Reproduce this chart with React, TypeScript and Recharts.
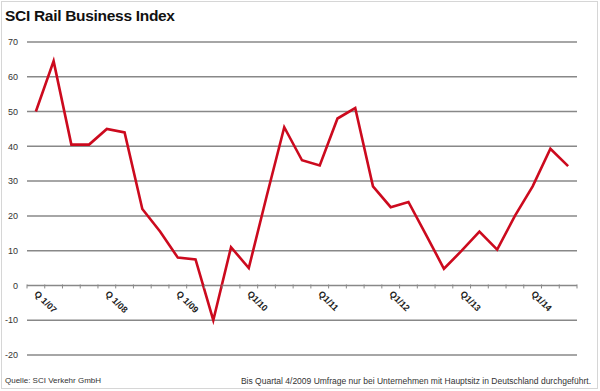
import React from 'react'
import { LineChart, Line, XAxis, YAxis, CartesianGrid } from 'recharts'

const quarters = [
  'Q1/07', 'Q2/07', 'Q3/07', 'Q4/07',
  'Q1/08', 'Q2/08', 'Q3/08', 'Q4/08',
  'Q1/09', 'Q2/09', 'Q3/09', 'Q4/09',
  'Q1/10', 'Q2/10', 'Q3/10', 'Q4/10',
  'Q1/11', 'Q2/11', 'Q3/11', 'Q4/11',
  'Q1/12', 'Q2/12', 'Q3/12', 'Q4/12',
  'Q1/13', 'Q2/13', 'Q3/13', 'Q4/13',
  'Q1/14', 'Q2/14', 'Q3/14',
]

const indexValues = [
  50, 64.5, 40.5, 40.5,
  45, 44, 22, 15.5,
  8, 7.5, -10, 11,
  5, 25.5, 45.5, 36,
  34.5, 48, 51, 28.5,
  22.5, 24, 14.5, 4.8,
  10, 15.5, 10.3, 20,
  28.5, 39.3, 34.3,
]

// only the first quarter of each year gets a label
const tickLabels = ['Q 1/07', 'Q 1/08', 'Q 1/09', 'Q1/10', 'Q1/11', 'Q1/12', 'Q1/13', 'Q1/14']

const yTicks = [-20, -10, 0, 10, 20, 30, 40, 50, 60, 70]

const data = quarters.map((q, i) => ({ quarter: q, value: indexValues[i] }))

const WIDTH = 600
const HEIGHT = 391
const margin = { top: 42, right: 23, bottom: 35, left: 0 }
const yAxisWidth = 27
const xAxisHeight = 1
const plotH = HEIGHT - margin.top - margin.bottom - xAxisHeight
const plotW = WIDTH - margin.right - margin.left - yAxisWidth
const bandW = plotW / quarters.length
const yMin = yTicks[0]
const yMax = yTicks[yTicks.length - 1]
const font = "Arial, 'Liberation Sans', sans-serif"

function quarterTick({
  x,
  y,
  index,
}: {
  x: number
  y: number
  index: number
}) {
  // x axis crosses at 0, so move everything up from the plot bottom
  const zeroY = y - (plotH * (0 - yMin)) / (yMax - yMin)
  const left = x - bandW / 2
  const label = index % 4 === 0 ? tickLabels[index / 4] : ''
  const lx = x - 2
  const ly = zeroY + 9
  return (
    <g>
      <line x1={left} x2={left} y1={zeroY - 1} y2={zeroY + 3} stroke="#888" strokeWidth={1} />
      {index === quarters.length - 1 && (
        <line x1={x + bandW / 2} x2={x + bandW / 2} y1={zeroY - 1} y2={zeroY + 3} stroke="#888" strokeWidth={1} />
      )}
      {label && (
        <text
          x={lx}
          y={ly}
          transform={`rotate(45, ${lx}, ${ly})`}
          textAnchor="start"
          fontSize="9px"
          fontWeight="bold"
          fill="#222"
          fontFamily={font}
        >
          {label}
        </text>
      )}
    </g>
  )
}

const App = () => {
  return (
    <div
      style={{
        position: 'absolute',
        left: 0,
        top: 0,
        width: WIDTH,
        height: HEIGHT,
        background: '#fff',
        fontFamily: font,
      }}
    >
      <div
        style={{
          position: 'absolute',
          left: 1,
          top: 1,
          width: 595,
          height: 386,
          border: '1px solid #d6d6d6',
        }}
      />
      <div
        style={{
          position: 'absolute',
          left: 5,
          top: 7,
          fontSize: 15.5,
          fontWeight: 'bold',
          color: '#111',
          letterSpacing: '-0.3px',
        }}
      >
        SCI Rail Business Index
      </div>
      <LineChart width={WIDTH} height={HEIGHT} data={data} margin={margin}>
        <CartesianGrid vertical={false} stroke="#888" strokeWidth={1.5} />
        <XAxis
          dataKey="quarter"
          interval={0}
          height={xAxisHeight}
          padding={{ left: bandW / 2, right: bandW / 2 }}
          axisLine={false}
          tickLine={false}
          tickSize={0}
          tickMargin={0}
          tick={quarterTick}
        />
        <YAxis
          width={yAxisWidth}
          domain={[yMin, yMax]}
          ticks={yTicks}
          interval={0}
          axisLine={false}
          tickLine={false}
          tickSize={0}
          tickMargin={9}
          tick={{ fontSize: 9, fill: '#333', fontFamily: font }}
        />
        <Line
          type="linear"
          dataKey="value"
          stroke="#cc0a1e"
          strokeWidth={2.6}
          dot={false}
          isAnimationActive={false}
        />
      </LineChart>
      <div style={{ position: 'absolute', left: 5, top: 376, fontSize: 8, color: '#333' }}>
        Quelle: SCI Verkehr GmbH
      </div>
      <div style={{ position: 'absolute', right: 9, top: 376, fontSize: 8.5, color: '#333' }}>
        Bis Quartal 4/2009 Umfrage nur bei Unternehmen mit Hauptsitz in Deutschland durchgeführt.
      </div>
    </div>
  )
}

export default App
